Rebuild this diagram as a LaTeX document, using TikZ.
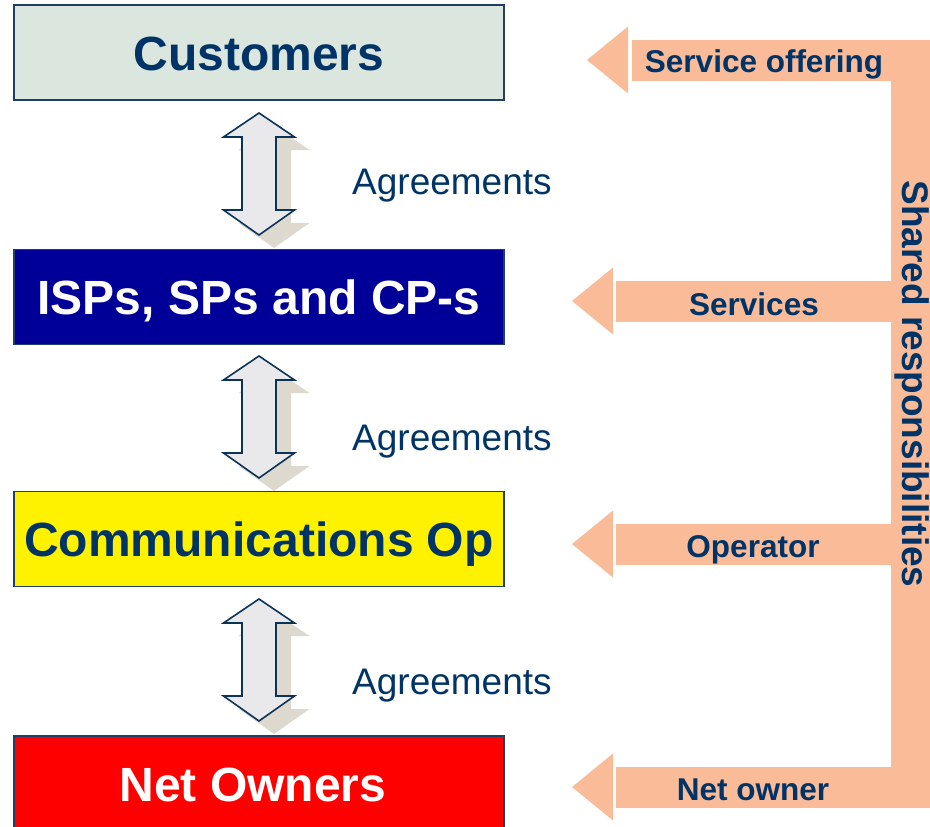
\documentclass[tikz,border=0pt]{standalone}
\usepackage{fontspec}
\setmainfont{Liberation Sans}
\definecolor{navy}{HTML}{003366}
\definecolor{salmon}{HTML}{F9BB98}
\definecolor{custfill}{HTML}{DAE6DE}
\definecolor{boxline}{HTML}{1F3F66}
\definecolor{arrfill}{HTML}{E9E9EB}
\definecolor{arrline}{HTML}{0B3358}
\definecolor{shadowc}{HTML}{DDD9CE}
\definecolor{ispblue}{HTML}{000099}
\tikzset{
  levelbox/.style={draw=boxline, line width=1.2pt, minimum width=490pt, minimum height=95pt,
    inner sep=0pt, text height=35pt, text depth=0pt, font=\bfseries\fontsize{48}{48}\selectfont},
  agree/.style={anchor=base west, inner sep=0pt, text=navy, font=\fontsize{37}{37}\selectfont},
  sidelabel/.style={anchor=base, inner sep=0pt, text=navy, font=\bfseries\fontsize{31.5}{31.5}\selectfont},
  dblarrow/.pic={\path[pic actions] (0,0) -- (35.5,24) -- (17,24) -- (17,97) -- (35.5,97) -- (0,122)
      -- (-35.5,97) -- (-17,97) -- (-17,24) -- (-35.5,24) -- cycle;},
  arrowmain/.style={fill=arrfill, draw=arrline, line width=1.6pt, line join=miter},
  arrowshadow/.style={fill=shadowc},
}
\begin{document}
\begin{tikzpicture}[x=1pt,y=-1pt]
\useasboundingbox (0,0) rectangle (930,827);
\clip (0,0) rectangle (930,827);

% coordinates for double arrows
\coordinate (a1) at (259,113);
\coordinate (a2) at (259,356);
\coordinate (a3) at (259,599);

% shadows
\foreach \c in {a1,a2,a3}{
  \pic[arrowshadow] at ([shift={(15,13)}]\c) {dblarrow};
}

% boxes
\node[levelbox, fill=custfill, text=navy] (cust) at (259,52.5) {Customers};
\node[levelbox, fill=ispblue, text=white] (isp) at (259,297) {ISPs, SPs and CP-s};
\node[levelbox, fill=yellow, text=navy] (comm) at (259,539) {Communications Op};
\node[levelbox, fill=red, text=white] (net) at (259,783.5) {Net Owners\kern12pt};

% double arrows
\foreach \c in {a1,a2,a3}{
  \pic[arrowmain] at (\c) {dblarrow};
}

% agreements labels
\node[agree] (ag1) at (352,194) {Agreements};
\node[agree] (ag2) at (352,450) {Agreements};
\node[agree] (ag3) at (352,694) {Agreements};

% right side salmon structure
\fill[salmon] (891,39.5) rectangle (940,807.5);
% arrow 1
\fill[salmon] (587,60) -- (628,26.5) -- (628,93.5) -- cycle;
\fill[salmon] (632,39.5) rectangle (895,80.5);
% arrow 2
\fill[salmon] (572,301) -- (613,267.5) -- (613,334.5) -- cycle;
\fill[salmon] (616,280.5) rectangle (895,321.5);
% arrow 3
\fill[salmon] (572,544) -- (613,510.5) -- (613,577.5) -- cycle;
\fill[salmon] (616,523.5) rectangle (895,564.5);
% arrow 4
\fill[salmon] (572,787) -- (613,753.5) -- (613,820.5) -- cycle;
\fill[salmon] (616,766.5) rectangle (895,807.5);

% side labels
\node[sidelabel] (so) at (764,72) {Service offering};
\node[sidelabel] (sv) at (754,315) {Services};
\node[sidelabel] (op) at (753,557) {Operator};
\node[sidelabel] (no) at (753,800) {Net owner};

\node[anchor=base, inner sep=0pt, text=navy, rotate=-90,
  font=\bfseries\fontsize{37}{37}\selectfont] (shared) at (902,384) {Shared responsibilities};
\end{tikzpicture}
\end{document}
